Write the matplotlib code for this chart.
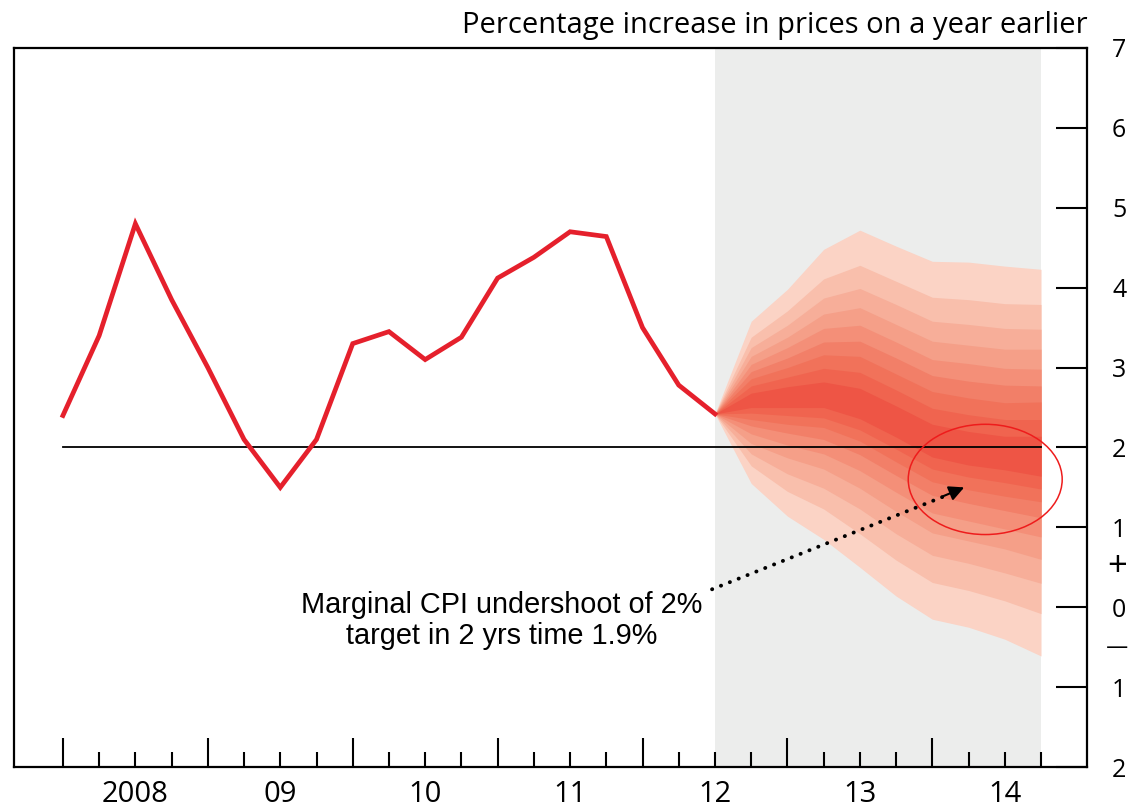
import matplotlib
matplotlib.use("Agg")
import matplotlib.pyplot as plt
from matplotlib.patches import Ellipse
import numpy as np

# CPI inflation, quarterly, 2008 Q1 .. 2012 Q3
cpi = [2.4, 3.4, 4.8, 3.85, 3.0, 2.1, 1.5, 2.1, 3.3, 3.45,
       3.1, 3.38, 4.12, 4.38, 4.7, 4.64, 3.5, 2.78, 2.42]

# fan chart boundaries, 2012 Q3 .. 2014 Q4 (outer band first, inner last)
fan_upper = [
    [2.42, 3.58, 3.98, 4.48, 4.72, 4.52, 4.33, 4.32, 4.27, 4.23],
    [2.42, 3.38, 3.71, 4.11, 4.28, 4.08, 3.88, 3.85, 3.80, 3.79],
    [2.42, 3.25, 3.53, 3.87, 3.99, 3.79, 3.58, 3.54, 3.49, 3.48],
    [2.42, 3.14, 3.38, 3.67, 3.75, 3.54, 3.33, 3.28, 3.23, 3.23],
    [2.42, 3.04, 3.25, 3.49, 3.53, 3.32, 3.10, 3.05, 2.99, 2.98],
    [2.42, 2.95, 3.12, 3.32, 3.33, 3.12, 2.90, 2.83, 2.78, 2.77],
    [2.42, 2.86, 3.00, 3.16, 3.14, 2.92, 2.70, 2.62, 2.56, 2.57],
    [2.42, 2.77, 2.88, 2.99, 2.94, 2.72, 2.49, 2.41, 2.35, 2.35],
    [2.42, 2.68, 2.76, 2.82, 2.74, 2.52, 2.29, 2.20, 2.14, 2.14],
]
fan_lower = [
    [2.42, 1.55, 1.14, 0.85, 0.50, 0.14, -0.15, -0.25, -0.40, -0.61],
    [2.42, 1.77, 1.45, 1.23, 0.92, 0.59, 0.31, 0.21, 0.08, -0.08],
    [2.42, 1.92, 1.67, 1.49, 1.23, 0.92, 0.65, 0.55, 0.43, 0.30],
    [2.42, 2.05, 1.87, 1.73, 1.49, 1.20, 0.93, 0.83, 0.73, 0.60],
    [2.42, 2.17, 2.03, 1.92, 1.71, 1.44, 1.18, 1.08, 0.98, 0.88],
    [2.42, 2.27, 2.18, 2.10, 1.91, 1.65, 1.40, 1.30, 1.21, 1.12],
    [2.42, 2.35, 2.29, 2.25, 2.08, 1.82, 1.57, 1.47, 1.39, 1.32],
    [2.42, 2.43, 2.40, 2.37, 2.22, 1.98, 1.73, 1.63, 1.56, 1.48],
    [2.42, 2.50, 2.50, 2.50, 2.36, 2.13, 1.88, 1.78, 1.72, 1.64],
]
fan_colors = ['#fbd3c5', '#f9bfac', '#f7ae99', '#f59f88', '#f48f78',
              '#f27f68', '#f1725a', '#f0644f', '#ee5545']

year_labels = ['2008', '09', '10', '11', '12', '13', '14']
ytick_labels = ['7', '6', '5', '4', '3', '2', '1', '0', '1', '2']

q = np.arange(len(cpi))              # quarter index, 0 = 2008 Q1
fan_q = np.arange(18, 18 + len(fan_upper[0]))

fig = plt.figure(figsize=(11.31, 8.08), dpi=100)
ax = fig.add_axes([0.0124, 0.0507, 0.9487, 0.8899])

ax.axvspan(18, 27, color='#ecedec', lw=0, zorder=0)
for up, lo, c in zip(fan_upper, fan_lower, fan_colors):
    ax.fill_between(fan_q, lo, up, color=c, lw=0, zorder=1)

ax.plot([0, 27], [2, 2], color='black', lw=1.3, zorder=3)
ax.plot(q, cpi, color='#e5202c', lw=3.4, zorder=4, solid_joinstyle='miter')

ax.set_xlim(-1.35, 28.27)
ax.set_ylim(-2, 7)

# axes frame
for s in ax.spines.values():
    s.set_linewidth(1.6)

# x ticks: tall at year start, short every quarter, labels mid-year
ax.set_xticks(np.arange(0, 25, 4))
ax.set_xticklabels([])
minor_pos = [i for i in range(28) if i % 4 != 0]
minor_lab = [year_labels[(i - 2) // 4] if (i - 2) % 4 == 0 else '' for i in minor_pos]
ax.set_xticks(minor_pos, labels=minor_lab, minor=True)
ax.tick_params(axis='x', which='major', direction='in', length=21, width=1.5)
ax.tick_params(axis='x', which='minor', direction='in', length=11, width=1.5,
               pad=9, labelsize=21)

ax.yaxis.tick_right()
ax.set_yticks(np.arange(7, -3, -1), labels=ytick_labels)
ax.tick_params(axis='y', direction='in', length=22, width=1.5, pad=18, labelsize=18)
ax.tick_params(axis='y', which='minor', length=0)

for lab in ax.get_xticklabels(minor=True) + ax.get_yticklabels():
    lab.set_family('Open Sans')

ax.text(1.028, 0.5, '+', transform=ax.get_yaxis_transform(), fontsize=25,
        family='Open Sans', va='center', ha='center')
ax.text(1.028, -0.5, '—', transform=ax.get_yaxis_transform(), fontsize=16,
        family='DejaVu Sans', va='center', ha='center')

fig.text(0.962, 0.959, 'Percentage increase in prices on a year earlier',
         ha='right', va='baseline', fontsize=21, family='Open Sans')

# annotation
ax.add_patch(Ellipse((25.46, 1.60), 4.25, 1.38, fill=False, edgecolor='#ee1c1c',
                     lw=1.1, zorder=6))
ax.plot([17.92, 24.5], [0.225, 1.42], color='black', lw=2.8,
        linestyle=(0, (0.05, 2.4)), dash_capstyle='round', zorder=7)
ax.annotate('', xy=(24.88, 1.50), xytext=(24.3, 1.39),
            arrowprops=dict(arrowstyle='-|>,head_length=0.9,head_width=0.45',
                            color='black', lw=1.5, shrinkA=0, shrinkB=0),
            zorder=7)
ax.text(12.12, -0.17, 'Marginal CPI undershoot of 2%\ntarget in 2 yrs time 1.9%',
        ha='center', va='center', fontsize=20.8, family='Liberation Sans',
        linespacing=1.15, zorder=7)

fig.savefig('out.png', dpi=100)
